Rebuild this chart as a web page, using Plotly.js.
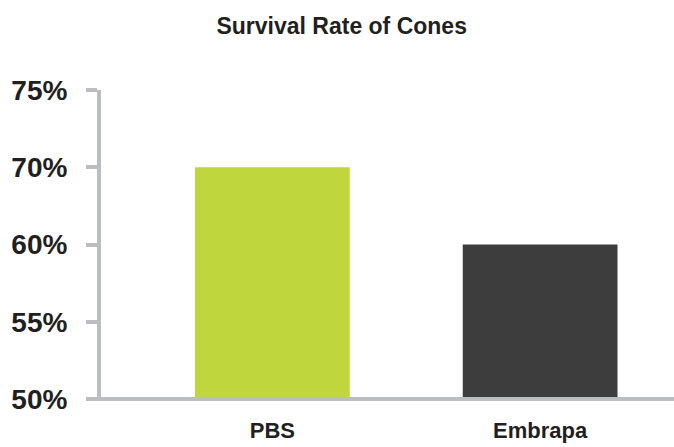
<!DOCTYPE html>
<html>
<head>
<meta charset="utf-8">
<script src="https://cdn.plot.ly/plotly-3.0.1.min.js"></script>
<style>html,body{margin:0;padding:0;background:#fff;}#chart{width:674px;height:447px;}</style>
</head>
<body>
<div id="chart"></div>
<script>
// Data
const categories = ['PBS', 'Embrapa'];
const survivalRates = [70, 60];           // percent
const yTickLabels = ['50%', '55%', '60%', '70%', '75%']; // axis labels as printed (evenly spaced)
const barColors = ['#bfd73d', '#3d3d3d'];

const fontFam = 'Liberation Sans, Arial, Helvetica, sans-serif';
const txt = '#231f20';
const axisGrey = '#bcbdc0';

const trace = {
  type: 'bar',
  x: categories,
  y: survivalRates.map(v => v + '%'),
  marker: { color: barColors, line: { width: 0 } },
  width: 0.578,
  hoverinfo: 'skip'
};

const layout = {
  width: 674,
  height: 447,
  margin: { l: 101, r: 0, t: 90, b: 48 },
  paper_bgcolor: '#fff',
  plot_bgcolor: '#fff',
  showlegend: false,
  title: {
    text: 'Survival Rate of Cones',
    font: { family: fontFam, size: 23, color: txt, weight: 'bold' },
    x: 0.507, xref: 'container', xanchor: 'center',
    y: 0.943, yref: 'container', yanchor: 'middle'
  },
  xaxis: {
    type: 'category',
    range: [-0.64, 1.5],
    showline: false,
    showgrid: false,
    zeroline: false,
    ticks: '',
    tickfont: { family: fontFam, size: 22, color: txt, weight: 'bold' },
    ticklabelstandoff: 16
  },
  yaxis: {
    type: 'category',
    categoryorder: 'array',
    categoryarray: yTickLabels,
    range: [0, 4],
    showline: true,
    linecolor: axisGrey,
    linewidth: 4,
    showgrid: false,
    zeroline: false,
    ticks: 'outside',
    ticklen: 11,
    tickwidth: 4,
    tickcolor: axisGrey,
    tickfont: { family: fontFam, size: 28, color: txt, weight: 'bold' },
    ticklabelstandoff: 13
  },
  shapes: [{
    type: 'line', xref: 'paper', yref: 'paper', layer: 'above',
    x0: -0.021, x1: 1, y0: 0, y1: 0,
    line: { color: axisGrey, width: 4 }
  }]
};

Plotly.newPlot('chart', [trace], layout, { staticPlot: true, displayModeBar: false });
</script>
</body>
</html>
